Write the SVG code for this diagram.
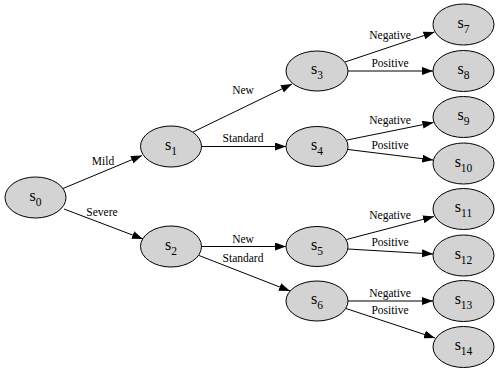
<svg xmlns="http://www.w3.org/2000/svg" width="500" height="372" viewBox="0 0 500 372">
<style>
.node ellipse{fill:#d3d3d3;stroke:#000;stroke-width:1}
.node text{font-family:'Liberation Serif','Times New Roman','DejaVu Serif',serif;font-size:16px;fill:#000;text-anchor:middle}
.node .sub{font-size:11.5px}
.edge{stroke:#000;stroke-width:1;fill:none;marker-end:url(#arr)}
.lbl{font-family:'Liberation Serif','Times New Roman','DejaVu Serif',serif;font-size:11.5px;fill:#000;text-anchor:middle}
</style>
<defs>
<marker id="arr" viewBox="0 0 11 8" refX="11" refY="4" markerWidth="11" markerHeight="8" markerUnits="userSpaceOnUse" orient="auto">
<path d="M0,0 L11,4 L0,8 z" fill="#000"/>
</marker>
</defs>
<rect width="500" height="372" fill="#fff"/>
<g id="connectors">
<line class="edge" x1="63" y1="188.5" x2="142" y2="155.5"/>
<text class="lbl" x="103" y="165">Mild</text>
<line class="edge" x1="64" y1="209" x2="143" y2="239"/>
<text class="lbl" x="102" y="216">Severe</text>
<line class="edge" x1="193" y1="132" x2="292" y2="84"/>
<text class="lbl" x="243" y="93.5">New</text>
<line class="edge" x1="201.5" y1="146.5" x2="286" y2="146.5"/>
<text class="lbl" x="243" y="141.5">Standard</text>
<line class="edge" x1="201.5" y1="246.5" x2="286" y2="246.5"/>
<text class="lbl" x="243" y="243">New</text>
<line class="edge" x1="199" y1="255.5" x2="290" y2="291"/>
<text class="lbl" x="243" y="261.5">Standard</text>
<line class="edge" x1="345" y1="62" x2="434.5" y2="32"/>
<text class="lbl" x="390" y="38.5">Negative</text>
<line class="edge" x1="348" y1="71" x2="433" y2="71"/>
<text class="lbl" x="390" y="66.5">Positive</text>
<line class="edge" x1="347" y1="140" x2="433.5" y2="122.5"/>
<text class="lbl" x="390" y="123.5">Negative</text>
<line class="edge" x1="348" y1="149.5" x2="433.3" y2="160"/>
<text class="lbl" x="390" y="148.5">Positive</text>
<line class="edge" x1="346.5" y1="239.5" x2="434" y2="216.5"/>
<text class="lbl" x="390" y="218.5">Negative</text>
<line class="edge" x1="348" y1="249" x2="433" y2="254"/>
<text class="lbl" x="390" y="246">Positive</text>
<line class="edge" x1="348" y1="301" x2="433" y2="301"/>
<text class="lbl" x="390" y="296.5">Negative</text>
<line class="edge" x1="346" y1="308.5" x2="435" y2="338"/>
<text class="lbl" x="390" y="313.5">Positive</text>
</g>
<g id="s0" class="node"><ellipse cx="35.5" cy="197.5" rx="30.5" ry="20.5"/><text x="35.5" y="200.5">s<tspan class="sub" dy="5">0</tspan></text></g>
<g id="s1" class="node"><ellipse cx="171" cy="146.5" rx="30.5" ry="20.5"/><text x="171" y="149.5">s<tspan class="sub" dy="5">1</tspan></text></g>
<g id="s2" class="node"><ellipse cx="171" cy="246.5" rx="30.5" ry="20.5"/><text x="171" y="249.5">s<tspan class="sub" dy="5">2</tspan></text></g>
<g id="s3" class="node"><ellipse cx="317" cy="71" rx="31" ry="20"/><text x="317" y="74">s<tspan class="sub" dy="5">3</tspan></text></g>
<g id="s4" class="node"><ellipse cx="317" cy="146.5" rx="31" ry="20"/><text x="317" y="149.5">s<tspan class="sub" dy="5">4</tspan></text></g>
<g id="s5" class="node"><ellipse cx="317" cy="246.5" rx="31" ry="20"/><text x="317" y="249.5">s<tspan class="sub" dy="5">5</tspan></text></g>
<g id="s6" class="node"><ellipse cx="317" cy="301" rx="31" ry="20"/><text x="317" y="304">s<tspan class="sub" dy="5">6</tspan></text></g>
<g id="s7" class="node"><ellipse cx="463.5" cy="24.5" rx="30.5" ry="20.5"/><text x="463.5" y="27.5">s<tspan class="sub" dy="5">7</tspan></text></g>
<g id="s8" class="node"><ellipse cx="463.5" cy="71" rx="30.5" ry="20.5"/><text x="463.5" y="74">s<tspan class="sub" dy="5">8</tspan></text></g>
<g id="s9" class="node"><ellipse cx="463.5" cy="117" rx="30.5" ry="20.5"/><text x="463.5" y="120">s<tspan class="sub" dy="5">9</tspan></text></g>
<g id="s10" class="node"><ellipse cx="463.5" cy="163.5" rx="30.5" ry="20.5"/><text x="463.5" y="166.5">s<tspan class="sub" dy="5">10</tspan></text></g>
<g id="s11" class="node"><ellipse cx="463.5" cy="209" rx="30.5" ry="20.5"/><text x="463.5" y="212">s<tspan class="sub" dy="5">11</tspan></text></g>
<g id="s12" class="node"><ellipse cx="463.5" cy="255.5" rx="30.5" ry="20.5"/><text x="463.5" y="258.5">s<tspan class="sub" dy="5">12</tspan></text></g>
<g id="s13" class="node"><ellipse cx="463.5" cy="301" rx="30.5" ry="20.5"/><text x="463.5" y="304">s<tspan class="sub" dy="5">13</tspan></text></g>
<g id="s14" class="node"><ellipse cx="463.5" cy="347" rx="30.5" ry="20.5"/><text x="463.5" y="350">s<tspan class="sub" dy="5">14</tspan></text></g>
</svg>
